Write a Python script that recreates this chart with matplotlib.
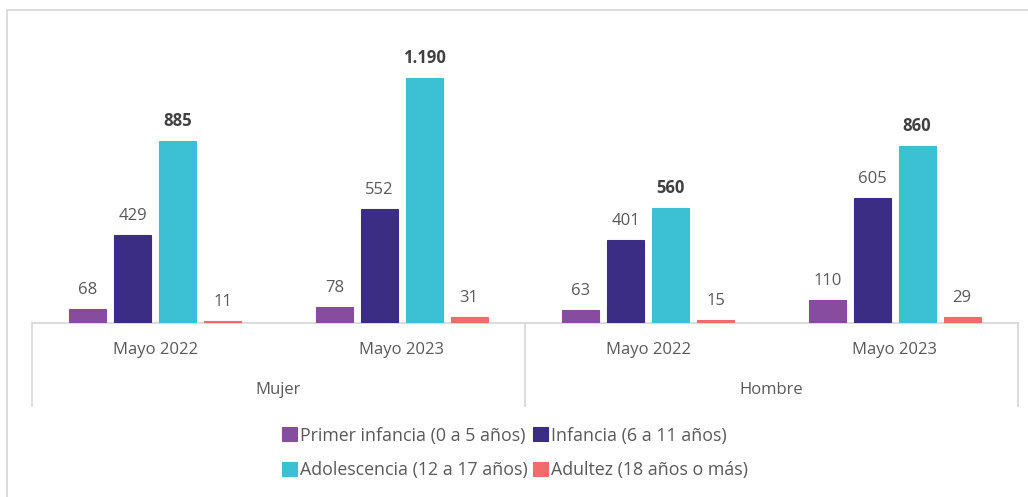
import matplotlib
matplotlib.use("Agg")
import matplotlib.pyplot as plt
from matplotlib.lines import Line2D
import numpy as np

plt.rcParams['font.family'] = ['Open Sans', 'DejaVu Sans']

groups = ["Mujer", "Hombre"]
periods = ["Mayo 2022", "Mayo 2023"]
series_names = ["Primer infancia (0 a 5 años)", "Infancia (6 a 11 años)",
                "Adolescencia (12 a 17 años)", "Adultez (18 años o más)"]
primer_infancia = [68, 78, 63, 110]
infancia = [429, 552, 401, 605]
adolescencia = [885, 1190, 560, 860]
adultez = [11, 31, 15, 29]
labels_txt = [["68", "78", "63", "110"], ["429", "552", "401", "605"],
              ["885", "1.190", "560", "860"], ["11", "31", "15", "29"]]
colors = ["#874C9E", "#3B2C84", "#3CC0D4", "#F26B6B"]

series = [primer_infancia, infancia, adolescencia, adultez]

fig = plt.figure(figsize=(10.28, 4.97), dpi=100)
ax = fig.add_axes([32/1028, (497-323)/497, (1018-32)/1028, (323-40)/497])

x = np.arange(4)
width = 0.15
pitch = 0.182
text_col = "#595959"
handles = []
for i, (vals, col) in enumerate(zip(series, colors)):
    pos = x + (i - 1.5) * pitch
    bars = ax.bar(pos, vals, width=width, color=col, label=series_names[i], zorder=3,
                  edgecolor=col, linewidth=0.8)
    handles.append(bars)
    for b, v, t in zip(bars, vals, labels_txt[i]):
        ax.annotate(t, (b.get_x() + b.get_width()/2, v), xytext=(0, 8),
                    textcoords="offset points", ha="center", va="bottom",
                    fontsize=12, color=("#404040" if i == 2 else text_col),
                    fontweight=("bold" if i == 2 else "normal"))

ax.set_xlim(-0.5, 3.5)
ax.set_ylim(0, 1374)
ax.axis("off")

line_col = "#D9D9D9"
ax.plot([-0.5, 3.5], [0, 0], color=line_col, lw=1.3, clip_on=False, zorder=2)
ybot = -(406-323)/283
for xv in [-0.5, 1.5, 3.5]:
    ax.plot([xv, xv], [0, ybot], color=line_col, lw=1.3, clip_on=False,
            transform=ax.get_xaxis_transform())
for xi in x:
    ax.text(xi, -(350-323)/283, periods[xi % 2], transform=ax.get_xaxis_transform(),
            ha="center", va="center", fontsize=12, color=text_col)
for gi, g in enumerate(groups):
    ax.text(0.5 + 2*gi, -(390-323)/283, g, transform=ax.get_xaxis_transform(),
            ha="center", va="center", fontsize=12, color=text_col)

fig.add_artist(Line2D([7/1028, 1.0], [1-10/497, 1-10/497], color=line_col, lw=1.3))
fig.add_artist(Line2D([7/1028, 7/1028], [0, 1-10/497], color=line_col, lw=1.3))

order = [0, 2, 1, 3]
leg = fig.legend([handles[k] for k in order], [series_names[k] for k in order],
                 loc="center", bbox_to_anchor=(515/1028, 1-453/497), ncol=2,
                 frameon=False, fontsize=12.8, handlelength=0.85, handleheight=0.85,
                 handletextpad=0.15, columnspacing=0.3, labelspacing=0.95,
                 labelcolor=text_col)

fig.savefig("out.png", dpi=100, facecolor="white")
